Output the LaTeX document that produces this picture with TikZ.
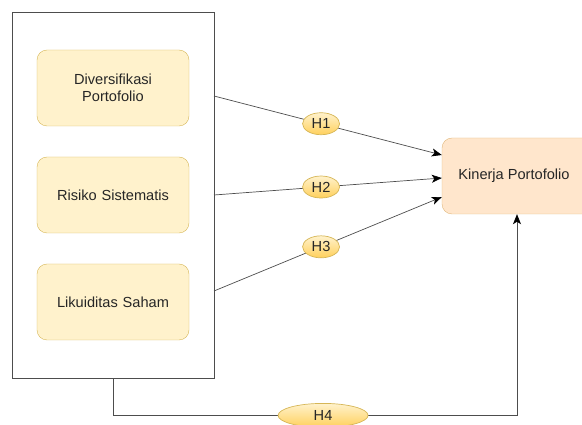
\documentclass[tikz,border=0pt]{standalone}
\usepackage{fontspec}
\setmainfont{Liberation Sans}
\usetikzlibrary{arrows.meta, shapes.geometric}
\definecolor{varfill}{HTML}{FFF2CC}
\definecolor{varline}{HTML}{D6B656}
\definecolor{hypdark}{HTML}{FFD966}
\definecolor{outfill}{HTML}{FFE6CC}
\definecolor{outline}{HTML}{E0B77A}
\definecolor{linegray}{HTML}{4D4D4D}
\definecolor{txtgray}{HTML}{262626}

\begin{document}
\begin{tikzpicture}[x=1pt, y=-1pt, font=\fontsize{14.6}{17}\selectfont, text=txtgray,
    varbox/.style={draw=varline, fill=varfill, rounded corners=10pt, minimum width=152pt, minimum height=76pt, text width=140pt, align=center},
    hyp/.style={ellipse, draw=varline, top color=varfill, bottom color=hypdark!90!orange, minimum width=37pt, minimum height=22pt, inner sep=0pt},
    link/.style={draw=linegray, line width=0.7pt},
    tip/.style={-{Stealth[length=10pt, width=8pt, inset=2.5pt, black]}}]
    \useasboundingbox (0,0) rectangle (582,425);

    % Independent variables
    \node[draw=linegray, line width=0.8pt, minimum width=202pt, minimum height=366pt] (grp) at (113,195) {};
    \node[varbox] (div) at (113,88) {Diversifikasi\\Portofolio};
    \node[varbox] (ris) at (113,195) {Risiko Sistematis};
    \node[varbox] (lik) at (113,302) {Likuiditas Saham};

    % Dependent variable
    \node[draw=outline, fill=outfill, rounded corners=10pt, minimum width=150pt, minimum height=76pt] (kin) at (517,176) {};
    \node at (514,176) {Kinerja Portofolio};

    % Hypotheses
    \coordinate (s1) at (214,96);
    \coordinate (s2) at (214,195);
    \coordinate (s3) at (214,291);
    \draw[link, tip] (s1) -- node[hyp, pos=.47] {H1} ([yshift=21pt]kin.west);
    \draw[link, tip] (s2) -- node[hyp, pos=.47] {H2} ([yshift=-2pt]kin.west);
    \draw[link, tip] (s3) -- node[hyp, pos=.47] {H3} ([yshift=-21pt]kin.west);
    \draw[link, tip] (grp.south) -- ++(0,37) -| node[hyp, pos=.26, minimum width=90pt, minimum height=24pt] {H4} (kin.south);
\end{tikzpicture}
\end{document}
